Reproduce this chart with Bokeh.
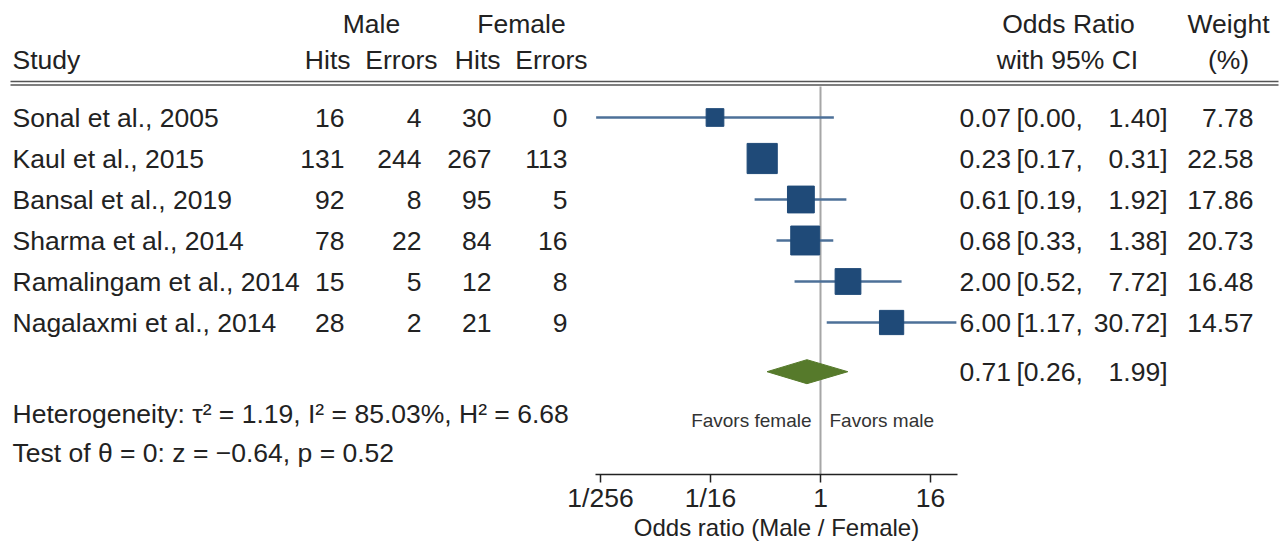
import numpy as np
from bokeh.plotting import figure
from bokeh.models import Range1d, FixedTicker, CustomJSTickFormatter, ColumnDataSource
from bokeh.core.properties import value
from bokeh.embed import file_html
from bokeh.resources import INLINE

# ---------------- data ----------------
studies = ["Sonal et al., 2005", "Kaul et al., 2015", "Bansal et al., 2019",
           "Sharma et al., 2014", "Ramalingam et al., 2014", "Nagalaxmi et al., 2014"]
male_hits = [16, 131, 92, 78, 15, 28]
male_errors = [4, 244, 8, 22, 5, 2]
female_hits = [30, 267, 95, 84, 12, 21]
female_errors = [0, 113, 5, 16, 8, 9]
odds_ratio = [0.07, 0.23, 0.61, 0.68, 2.00, 6.00]
ci_low = [0.0035, 0.17, 0.19, 0.33, 0.52, 1.17]
ci_high = [1.40, 0.31, 1.92, 1.38, 7.72, 30.72]
weight = [7.78, 22.58, 17.86, 20.73, 16.48, 14.57]
overall_or = 0.71
overall_low = 0.26
overall_high = 1.99
tick_values = [1/256, 1/16, 1, 16]
x_title = "Odds ratio (Male / Female)"
heterogeneity = "Heterogeneity: \u03c4\u00b2 = 1.19, I\u00b2 = 85.03%, H\u00b2 = 6.68"
test_text = "Test of \u03b8 = 0: z = \u22120.64, p = 0.52"

# ---------------- layout helpers (page pixel -> data) ----------------
PX_PER_LOG2 = 27.5
X_ONE = 820.0          # page x of OR = 1
ROW0 = 117.0           # page y of first study row
ROW_STEP = 41.0
FRAME_L, FRAME_R = 0, 1280
FRAME_T, FRAME_B = 0, 544
AXIS_Y = 474

def X(px):
    return 2.0 ** ((px - X_ONE) / PX_PER_LOG2)

def Y(py):
    return (py - ROW0) / ROW_STEP

FONT = value("Liberation Sans")
FS = "26.5px"
TXT = "#222222"

p = figure(x_axis_type="log", frame_width=FRAME_R - FRAME_L, frame_height=FRAME_B - FRAME_T,
           x_range=Range1d(X(FRAME_L), X(FRAME_R)),
           y_range=Range1d(Y(FRAME_B), Y(FRAME_T)),
           output_backend="svg", toolbar_location=None, y_axis_location=None,
           min_border=0, min_border_left=0, min_border_right=0, min_border_top=0,
           min_border_bottom=0)
p.outline_line_color = None
p.xgrid.visible = False
p.ygrid.visible = False
p.background_fill_color = "white"
p.border_fill_color = "white"

rows = list(range(len(studies)))
overall_row = 6.2

def txt(x, y, t, align="left", size=FS, color=TXT):
    src = ColumnDataSource(dict(x=x, y=y, t=t))
    p.text(x="x", y="y", text="t", source=src, text_align=align, text_baseline="middle",
           text_font=FONT, text_font_size=size, text_color=color)

# header
txt([X(371), X(521)], [Y(23)] * 2, ["Male", "Female"], align="center")
txt([X(12)], [Y(59)], ["Study"])
txt([X(350), X(437), X(500), X(587)], [Y(59)] * 4, ["Hits", "Errors", "Hits", "Errors"], align="right")
txt([X(1068), X(1228)], [Y(23)] * 2, ["Odds Ratio", "Weight"], align="center")
txt([X(1067), X(1228)], [Y(59)] * 2, ["with 95% CI", "(%)"], align="center")

# double rule under header
p.segment(x0=[X(10)] * 2, x1=[X(1278)] * 2, y0=[Y(81), Y(84.5)], y1=[Y(81), Y(84.5)],
          line_color="#555555", line_width=1.6)

# reference line at OR = 1
p.segment(x0=[1], x1=[1], y0=[Y(86)], y1=[Y(AXIS_Y)], line_color="#a6a6a6", line_width=2)

# study table columns
txt([X(12)] * len(rows), rows, studies)
txt([X(344)] * len(rows), rows, [str(v) for v in male_hits], align="right")
txt([X(421)] * len(rows), rows, [str(v) for v in male_errors], align="right")
txt([X(491)] * len(rows), rows, [str(v) for v in female_hits], align="right")
txt([X(567)] * len(rows), rows, [str(v) for v in female_errors], align="right")

# CI lines and squares
axis_lo, axis_hi = X(595), X(957)
lo_draw = [max(v, axis_lo) for v in ci_low]
hi_draw = [min(v, axis_hi) for v in ci_high]
p.segment(x0=lo_draw, x1=hi_draw, y0=rows, y1=rows, line_color="#4d7098", line_width=2.5)
sizes = [6.35 * np.sqrt(w) for w in weight]
p.scatter(x=odds_ratio, y=rows, size=sizes, marker="square",
          fill_color="#1f4a78", line_color="#1f4a78", line_width=1)

# overall diamond
h = 12.0 / ROW_STEP
p.patch(x=[overall_low, overall_or, overall_high, overall_or],
        y=[overall_row, overall_row - h, overall_row, overall_row + h],
        fill_color="#567a2b", line_color="#567a2b")

# OR text columns
all_or = odds_ratio + [overall_or]
all_lo = ci_low + [overall_low]
all_hi = ci_high + [overall_high]
all_rows = rows + [overall_row]
txt([X(959)] * len(all_rows), all_rows, [f"{v:.2f}" for v in all_or])
txt([X(1016)] * len(all_rows), all_rows, [f"[{v:.2f}," for v in all_lo])
txt([X(1167)] * len(all_rows), all_rows, [f"{v:.2f}]" for v in all_hi], align="right")
txt([X(1253)] * len(rows), rows, [f"{v:.2f}" for v in weight], align="right")

# favors labels
txt([X(811)], [Y(420)], ["Favors female"], align="right", size="19px", color="#333333")
txt([X(829)], [Y(420)], ["Favors male"], align="left", size="19px", color="#333333")

# heterogeneity
txt([X(12)], [Y(413)], [heterogeneity])
txt([X(12)], [Y(452)], [test_text])

# x axis, drawn inside the frame at the bottom of the forest panel
ax = p.xaxis[0]
ax.fixed_location = Y(AXIS_Y)
ax.ticker = FixedTicker(ticks=tick_values, minor_ticks=[])
ax.formatter = CustomJSTickFormatter(code="""
const e = Math.round(Math.log2(tick));
if (e >= 0) { return String(Math.pow(2, e)); }
return "1/" + String(Math.pow(2, -e));
""")
ax.bounds = (axis_lo, axis_hi)
ax.major_label_text_font = "Liberation Sans"
ax.major_label_text_font_size = "26.5px"
ax.major_label_text_color = TXT
ax.major_label_standoff = 0
ax.axis_line_color = "#222222"
ax.axis_line_width = 1.5
ax.major_tick_line_color = "#222222"
ax.major_tick_line_width = 1.5
ax.major_tick_in = 0
ax.major_tick_out = 8
ax.minor_tick_line_color = None

# axis title centred under the axis line
title_x = np.sqrt(axis_lo * axis_hi)
txt([title_x], [Y(527)], [x_title], align="center", size="24px")

open("out.html", "w").write(file_html(p, INLINE))
